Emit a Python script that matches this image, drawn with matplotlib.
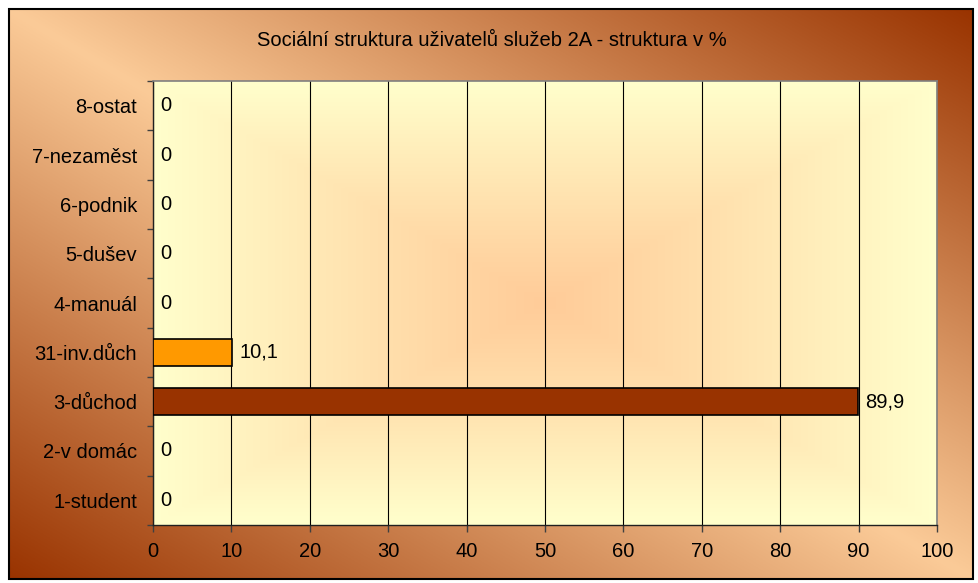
import numpy as np
import matplotlib
matplotlib.use("Agg")
import matplotlib.pyplot as plt
from matplotlib.patches import Rectangle
from matplotlib.colors import to_rgb

# data
categories = ['1-student', '2-v domác', '3-důchod', '31-inv.důch', '4-manuál',
              '5-dušev', '6-podnik', '7-nezaměst', '8-ostat']
values = [0, 0, 89.9, 10.1, 0, 0, 0, 0, 0]
bar_colors = ['#993300', '#993300', '#993300', '#FF9900', '#993300',
              '#993300', '#993300', '#993300', '#993300']
x_ticks = [0, 10, 20, 30, 40, 50, 60, 70, 80, 90, 100]
title = 'Sociální struktura uživatelů služeb 2A - struktura v %'

plt.rcParams['font.family'] = ['Liberation Sans', 'DejaVu Sans']

W, H = 979, 583
fig = plt.figure(figsize=(W / 100, H / 100), dpi=100)
fig.patch.set_facecolor('white')

# background of the chart area: light on the TL-BR diagonal, dark brown at the other corners
light = np.array(to_rgb('#FBCB98'))
dark = np.array(to_rgb('#993300'))
u, v = np.meshgrid(np.linspace(0, 1, 400), np.linspace(0, 1, 300))
t = np.clip(np.abs(u - v), 0, 1)[..., None]
bg_img = light * (1 - t) + dark * t

x0, y0, x1, y1 = 9, 9, 973, 579
bg = fig.add_axes([x0 / W, 1 - y1 / H, (x1 - x0) / W, (y1 - y0) / H])
bg.imshow(bg_img, extent=[0, 1, 0, 1], aspect='auto', origin='upper')
bg.axis('off')
fig.patches.append(Rectangle((x0 / W, 1 - y1 / H), (x1 - x0) / W, (y1 - y0) / H,
                             transform=fig.transFigure, fill=False,
                             edgecolor='black', linewidth=1.5, zorder=10))

fig.text(492 / W, 1 - 40 / H, title, ha='center', va='center', fontsize=14.5)

# plot area
left, right, top, bottom = 153, 937, 81, 525
ax = fig.add_axes([left / W, 1 - bottom / H, (right - left) / W, (bottom - top) / H])

yellow = np.array(to_rgb('#FFFFCC'))
peach = np.array(to_rgb('#FFCC99'))
px, py = np.meshgrid(np.linspace(-1, 1, 300), np.linspace(-1, 1, 200))
s = np.clip(np.maximum(np.abs(px), np.abs(py)), 0, 1) ** 1.1
s = s[..., None]
plot_img = peach * (1 - s) + yellow * s
ax.imshow(plot_img, extent=[0, 100, -0.5, 8.5], aspect='auto', zorder=0)

y = np.arange(len(categories))
widths = [1.2 if val > 0 else 0 for val in values]
ax.barh(y, values, height=0.55, color=bar_colors, edgecolor='black',
        linewidth=widths, zorder=3)

for i, val in enumerate(values):
    lab = f'{val:g}'.replace('.', ',')
    ax.annotate(lab, (val, i), xytext=(5, 0), textcoords='offset points',
                ha='left', va='center', fontsize=14.5)

ax.set_xlim(0, 100)
ax.set_ylim(-0.5, 8.5)
ax.set_xticks(x_ticks)
ax.set_yticks(y)
ax.set_yticklabels(categories)
ax.set_yticks(np.arange(-0.5, 9, 1), minor=True)
ax.tick_params(axis='y', which='major', length=0, pad=11.5, labelsize=14.5)
ax.tick_params(axis='y', which='minor', length=4.5, width=1, color='#404040')
ax.tick_params(axis='x', length=5, width=1, color='#404040', pad=7, labelsize=14.5)

ax.set_axisbelow(True)
ax.grid(axis='x', color='black', linewidth=0.8, zorder=1)

for side in ['left', 'bottom']:
    ax.spines[side].set_color('#202020')
    ax.spines[side].set_linewidth(1)
for side in ['top', 'right']:
    ax.spines[side].set_color('#808080')
    ax.spines[side].set_linewidth(1.2)

fig.savefig('out.png', dpi=100)
